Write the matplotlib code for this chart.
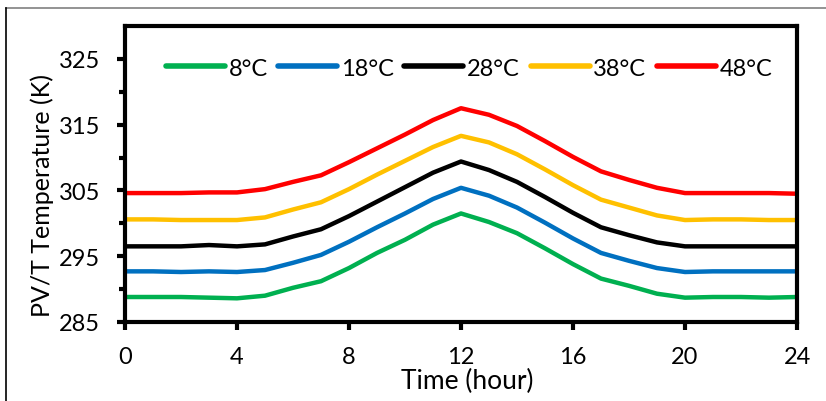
import matplotlib
matplotlib.use("Agg")
import matplotlib.pyplot as plt
from matplotlib.lines import Line2D
import numpy as np

plt.rcParams["font.family"] = ["Lato", "DejaVu Sans"]

# Hourly PV/T temperature (K) for five ambient temperatures
hours = list(range(25))
t_8 = [288.8, 288.8, 288.8, 288.7, 288.6, 289.0, 290.2, 291.2, 293.2, 295.5, 297.5, 299.8,
       301.5, 300.2, 298.5, 296.2, 293.8, 291.6, 290.5, 289.3, 288.7, 288.8, 288.8, 288.7, 288.8]
t_18 = [292.7, 292.7, 292.6, 292.7, 292.6, 292.9, 294.0, 295.2, 297.2, 299.4, 301.5, 303.7,
        305.4, 304.2, 302.4, 300.1, 297.7, 295.5, 294.3, 293.2, 292.6, 292.7, 292.7, 292.7, 292.7]
t_28 = [296.5, 296.5, 296.5, 296.7, 296.5, 296.8, 298.0, 299.1, 301.1, 303.3, 305.5, 307.7,
        309.4, 308.1, 306.3, 304.0, 301.6, 299.4, 298.2, 297.1, 296.5, 296.5, 296.5, 296.5, 296.5]
t_38 = [300.6, 300.6, 300.5, 300.5, 300.5, 300.9, 302.1, 303.2, 305.2, 307.4, 309.5, 311.6,
        313.3, 312.3, 310.5, 308.2, 305.8, 303.6, 302.4, 301.2, 300.5, 300.6, 300.6, 300.5, 300.5]
t_48 = [304.6, 304.6, 304.6, 304.7, 304.7, 305.2, 306.3, 307.3, 309.3, 311.4, 313.5, 315.7,
        317.5, 316.5, 314.8, 312.5, 310.1, 307.9, 306.6, 305.4, 304.6, 304.6, 304.6, 304.6, 304.5]

labels = ["8°C", "18°C", "28°C", "38°C", "48°C"]
colors = ["#00B050", "#0070C0", "#000000", "#FFC000", "#FF0000"]
series = [t_8, t_18, t_28, t_38, t_48]

fig = plt.figure(figsize=(8.26, 4.02), dpi=100)
ax = fig.add_axes([125 / 826, 79 / 402, 672 / 826, 296 / 402])

for vals, lab, col in zip(series, labels, colors):
    ax.plot(hours, vals, color=col, lw=3.2, label=lab, solid_joinstyle="round")

ax.set_xlim(0, 24)
ax.set_ylim(285, 330)
ax.set_xticks(range(0, 25, 4))
ax.set_yticks(range(285, 330, 10))
ax.set_yticks(range(290, 330, 10), minor=True)
ax.tick_params(axis="both", which="major", direction="out", length=6, width=3,
               labelsize=17)
ax.tick_params(axis="y", which="major", pad=12)
ax.tick_params(axis="y", which="minor", direction="out", length=4.5, width=3)
ax.tick_params(axis="x", pad=11)
for sp in ax.spines.values():
    sp.set_linewidth(3)

ax.set_xlabel("Time (hour)", fontsize=19)
ax.xaxis.set_label_coords(0.51, -0.155)
ax.set_ylabel("PV/T Temperature (K)", fontsize=18)
ax.yaxis.set_label_coords(-0.106, 0.43)

leg = ax.legend(loc="upper center", bbox_to_anchor=(0.512, 0.965), ncol=5, frameon=False,
                fontsize=17, handlelength=2.5, handletextpad=0.15, columnspacing=0.45)
for h in leg.get_lines():
    h.set_linewidth(4)
    h.set_solid_capstyle("round")

# outer frame of the original image
fig.add_artist(Line2D([6 / 826, 1], [1 - 9 / 402, 1 - 9 / 402], color="#808080", lw=1.2,
                      transform=fig.transFigure))
fig.add_artist(Line2D([6 / 826, 6 / 826], [0, 1 - 9 / 402], color="black", lw=1.2,
                      transform=fig.transFigure))

fig.savefig("out.png", dpi=100)
